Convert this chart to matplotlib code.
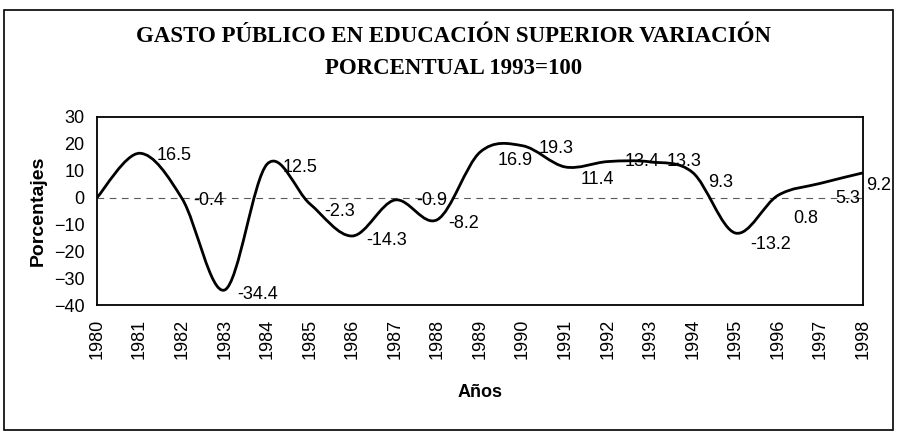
import numpy as np
import matplotlib.pyplot as plt
from matplotlib.path import Path
from matplotlib.patches import PathPatch, Rectangle

# datos
years = list(range(1980, 1999))
values = [0, 16.5, -0.4, -34.4, 12.5, -2.3, -14.3, -0.9, -8.2, 16.9,
          19.3, 11.4, 13.4, 13.3, 9.3, -13.2, 0.8, 5.3, 9.2]
value_labels = ['', '16.5', '-0.4', '-34.4', '12.5', '-2.3', '-14.3', '-0.9',
                '-8.2', '16.9', '19.3', '11.4', '13.4', '13.3', '9.3',
                '-13.2', '0.8', '5.3', '9.2']
y_ticks = [30, 20, 10, 0, -10, -20, -30, -40]

# desplazamiento de las etiquetas (pixeles)
lab_dx = [0, 17, 11, 13, 15, 14, 14, 21, 11, 18, 16, 16, 17, 16, 15, 15, 15, 15, 3]
lab_dy = [0, 2, 2, 5, 4, 8, 5, 1, 4, 8, 3, 13, 0, 0, 10, 11, 23, 15, 13]


def smooth_path(x, y):
    # linea suavizada tipo Excel (Bezier)
    verts = [(x[0], y[0])]
    codes = [Path.MOVETO]
    n = len(x)
    for i in range(n - 1):
        xp, yp = (x[i - 1], y[i - 1]) if i > 0 else (x[i], y[i])
        xn, yn = (x[i + 2], y[i + 2]) if i + 2 < n else (x[i + 1], y[i + 1])
        c1 = (x[i] + (x[i + 1] - xp) / 6, y[i] + (y[i + 1] - yp) / 6)
        c2 = (x[i + 1] - (xn - x[i]) / 6, y[i + 1] - (yn - y[i]) / 6)
        verts += [c1, c2, (x[i + 1], y[i + 1])]
        codes += [Path.CURVE4] * 3
    return Path(verts, codes)


plt.rcParams['font.family'] = ['Liberation Sans', 'DejaVu Sans']

fig = plt.figure(figsize=(9.01, 4.37), dpi=100)
ax = fig.add_axes([97 / 901, 1 - 305 / 437, (863 - 97) / 901, (305 - 117) / 437])

# marco exterior
fig.patches.append(Rectangle((4 / 901, 1 - 430 / 437), 889 / 901, 420 / 437,
                             transform=fig.transFigure, fill=False,
                             edgecolor='black', linewidth=1.2))

ax.axhline(0, color='0.35', linewidth=0.8, linestyle=(0, (6, 5)), zorder=1)
ax.add_patch(PathPatch(smooth_path(years, values), fill=False,
                       edgecolor='black', linewidth=2, zorder=3))

for yr, v, t, dx, dy in zip(years, values, value_labels, lab_dx, lab_dy):
    if t:
        ax.annotate(t, (yr, v), xytext=(dx, -dy), textcoords='offset pixels',
                    ha='left', va='center', fontsize=13)

ax.set_xlim(1980, 1998)
ax.set_ylim(-40, 30)
ax.set_yticks(y_ticks)
ax.set_xticks(years)
ax.set_xticklabels([str(y) for y in years], rotation=90, fontsize=13)
ax.tick_params(axis='y', labelsize=13, length=0, pad=9)
ax.tick_params(axis='x', length=0, pad=10)
for s in ax.spines.values():
    s.set_linewidth(1.3)

ax.set_ylabel('Porcentajes', fontsize=14, fontweight='bold', labelpad=5)
ax.set_xlabel('Años', fontsize=13, fontweight='bold', labelpad=18)

fig.text(0.503, 1 - 37 / 437, 'GASTO PÚBLICO EN EDUCACIÓN SUPERIOR VARIACIÓN',
         ha='center', va='center', fontsize=16.5, fontweight='bold',
         family='Liberation Serif')
fig.text(0.503, 1 - 68 / 437, 'PORCENTUAL 1993=100',
         ha='center', va='center', fontsize=16.5, fontweight='bold',
         family='Liberation Serif')

fig.savefig('out.png', dpi=100)
